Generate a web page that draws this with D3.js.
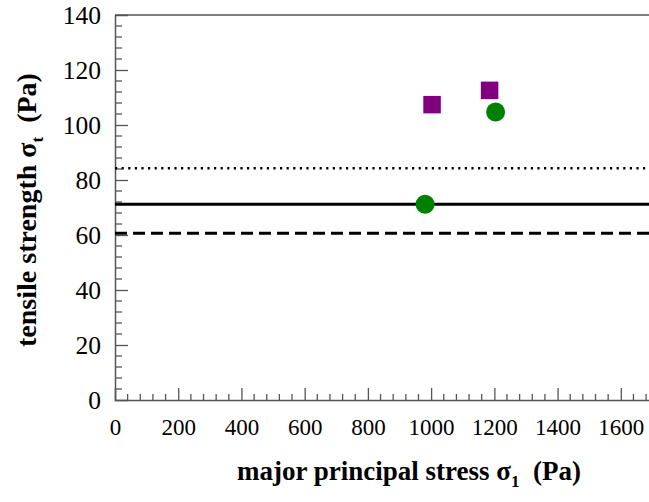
<!DOCTYPE html>
<html>
<head>
<meta charset="utf-8">
<script src="https://cdn.jsdelivr.net/npm/d3@7"></script>
<style>
  html, body { margin: 0; padding: 0; background: #fff; }
  svg { display: block; }
  text { font-family: "Liberation Serif", "Times New Roman", serif; }
</style>
</head>
<body>
<svg id="chart" width="649" height="502"></svg>
<script>
// Measured tensile strength against major principal stress
const seriesSquareX = [1003, 1185];
const seriesSquareY = [107.4, 112.6];
const seriesCircleX = [981, 1204];
const seriesCircleY = [71.2, 104.7];

// Horizontal reference levels (Pa)
const refLevels = [84.3, 71.2, 60.6];
const refStyles = ["dotted", "solid", "dashed"];

const xTicks = [0, 200, 400, 600, 800, 1000, 1200, 1400, 1600];
const yTicks = [0, 20, 40, 60, 80, 100, 120, 140];

const svg = d3.select("#chart");
const margin = { left: 115, top: 15, bottom: 400 };

const x = d3.scaleLinear().domain([0, 1700]).range([margin.left, 652.4]);
const y = d3.scaleLinear().domain([0, 140]).range([margin.bottom, margin.top]);

const axisColor = "#555";

// Top frame line
svg.append("line")
  .attr("x1", x(0)).attr("x2", x(1700))
  .attr("y1", y(140)).attr("y2", y(140))
  .attr("stroke", axisColor).attr("stroke-width", 1.5);

// Minor ticks (drawn inward)
const xMinor = d3.range(0, 1701, 40).filter(v => v % 200 !== 0);
const yMinor = d3.range(0, 141, 4).filter(v => v % 20 !== 0);

const xAxis = svg.append("g").attr("transform", `translate(0,${y(0)})`);
xAxis.call(d3.axisBottom(x).tickValues(xTicks).tickSize(-12).tickPadding(19).tickFormat(d3.format("d")));
xAxis.selectAll("line.minor").data(xMinor).enter().append("line")
  .attr("class", "minor")
  .attr("x1", d => x(d)).attr("x2", d => x(d))
  .attr("y1", 0).attr("y2", -6)
  .attr("stroke", axisColor).attr("stroke-width", 1.3);

const yAxis = svg.append("g").attr("transform", `translate(${x(0)},0)`);
yAxis.call(d3.axisLeft(y).tickValues(yTicks).tickSize(-13).tickPadding(14).tickFormat(d3.format("d")));
yAxis.selectAll("line.minor").data(yMinor).enter().append("line")
  .attr("class", "minor")
  .attr("x1", 0).attr("x2", 7)
  .attr("y1", d => y(d)).attr("y2", d => y(d))
  .attr("stroke", axisColor).attr("stroke-width", 1.3);

[xAxis, yAxis].forEach(g => {
  g.select(".domain").attr("stroke", axisColor).attr("stroke-width", 1.5);
  g.selectAll(".tick line").attr("stroke", axisColor).attr("stroke-width", 1.3);
  g.selectAll(".tick text")
    .attr("fill", "#000")
    .style("font-family", "'Liberation Serif', serif");
});
xAxis.selectAll(".tick text").style("font-size", "23px");
yAxis.selectAll(".tick text").style("font-size", "25.5px");
// Ticks at the corners coincide with the frame; drop those marks
xAxis.selectAll(".tick").filter(d => d === 0).select("line").remove();
yAxis.selectAll(".tick").filter(d => d === 0 || d === 140).select("line").remove();

// Reference lines
const dashFor = { solid: null, dashed: "12,6", dotted: "2.2,4.4" };
const widthFor = { solid: 3, dashed: 3, dotted: 2.4 };
svg.append("g").selectAll("line").data(refLevels).enter().append("line")
  .attr("x1", x(0)).attr("x2", x(1700))
  .attr("y1", d => y(d)).attr("y2", d => y(d))
  .attr("stroke", "#000")
  .attr("stroke-width", (d, i) => widthFor[refStyles[i]])
  .attr("stroke-dasharray", (d, i) => dashFor[refStyles[i]]);

// Squares
const sq = 17.5;
svg.append("g").selectAll("rect")
  .data(d3.zip(seriesSquareX, seriesSquareY)).enter().append("rect")
  .attr("x", d => x(d[0]) - sq / 2)
  .attr("y", d => y(d[1]) - sq / 2)
  .attr("width", sq).attr("height", sq)
  .attr("fill", "#800080");

// Circles
svg.append("g").selectAll("circle")
  .data(d3.zip(seriesCircleX, seriesCircleY)).enter().append("circle")
  .attr("cx", d => x(d[0]))
  .attr("cy", d => y(d[1]))
  .attr("r", 9.5)
  .attr("fill", "#008000");

// Axis titles
const xt = svg.append("text")
  .attr("x", 409).attr("y", 480)
  .attr("text-anchor", "middle")
  .style("font-size", "27px").style("font-weight", "bold");
xt.append("tspan").text("major principal stress \u03C3");
xt.append("tspan").attr("dy", 7).style("font-size", "17px").text("1");
xt.append("tspan").attr("dy", -7).text("\u00A0\u00A0(Pa)");

const yt = svg.append("text")
  .attr("transform", `translate(36,${210}) rotate(-90)`)
  .attr("text-anchor", "middle")
  .style("font-size", "28px").style("font-weight", "bold");
yt.append("tspan").text("tensile strength \u03C3");
yt.append("tspan").attr("dy", 7).style("font-size", "17px").text("t");
yt.append("tspan").attr("dy", -7).text("\u00A0\u00A0(Pa)");
</script>
</body>
</html>
